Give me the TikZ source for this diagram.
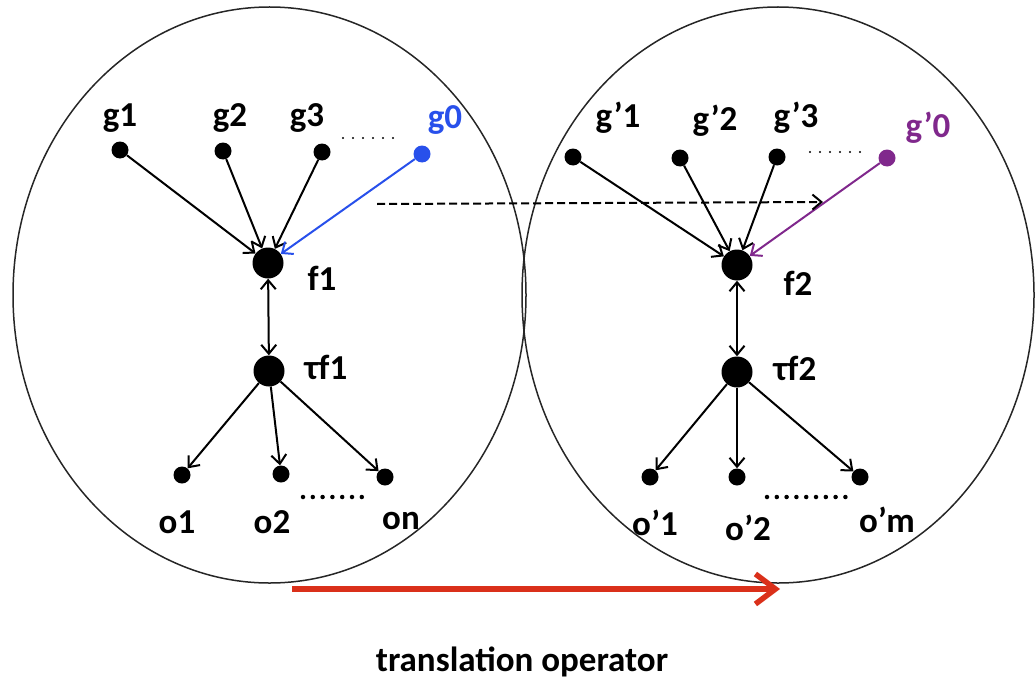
\documentclass[tikz,border=0pt]{standalone}
\usepackage{fontspec}
\setmainfont{Carlito}
\usetikzlibrary{arrows.meta}
\definecolor{gblue}{RGB}{40,80,235}
\definecolor{gpurple}{RGB}{128,40,140}
\definecolor{redarr}{RGB}{218,48,26}
\tikzset{
  sdot/.style={circle, fill=black, inner sep=0pt, minimum size=17pt},
  bdot/.style={circle, fill=black, inner sep=0pt, minimum size=31pt},
  lab/.style={font=\bfseries\fontsize{35}{38}\selectfont, inner sep=0pt, anchor=center},
  arr/.style={-{Straight Barb[length=9pt,width=15pt]}, line width=2pt},
  darr/.style={{Straight Barb[length=9pt,width=15pt]}-{Straight Barb[length=9pt,width=15pt]}, line width=2pt},
  dotrow/.style={line width=2.4pt, line cap=round, dash pattern=on 0pt off 10pt},
  bigdotrow/.style={line width=4.5pt, line cap=round, dash pattern=on 0pt off 9.8pt},
  oval/.style={line width=1.5pt, draw=black!85},
}
\begin{document}
\begin{tikzpicture}[x=1pt,y=-1pt]
\useasboundingbox (0,0) rectangle (1035,682);
% ovals
\draw[oval] (269.5,295) ellipse [x radius=256.5, y radius=288];
\draw[oval] (778,295) ellipse [x radius=256, y radius=288];
% left graph
\node[sdot] (g1) at (120,150) {};
\node[sdot] (g2) at (223,151) {};
\node[sdot] (g3) at (322,152) {};
\node[sdot, fill=gblue] (g0) at (422,154) {};
\node[bdot] (f1) at (268,263) {};
\node[bdot] (tf1) at (269,371) {};
\node[sdot] (o1) at (182,475) {};
\node[sdot] (o2) at (281,474) {};
\node[sdot] (on) at (385,477) {};
\node[lab] (lg1) at (120,118) {g1};
\node[lab] (lg2) at (230,118) {g2};
\node[lab] (lg3) at (307,118) {g3};
\node[lab, text=gblue] (lg0) at (445,120) {g0};
\node[lab] (lf1) at (322,278) {f1};
\node[lab] (ltf1) at (326,367) {τf1};
\node[lab] (lo1) at (177,522) {o1};
\node[lab] (lo2) at (272,522) {o2};
\node[lab] (lon) at (401,521) {on};
\coordinate (d1a) at (343,138);
\coordinate (d1b) at (403,138);
\coordinate (d2a) at (303,497);
\coordinate (d2b) at (362,497);
\draw[dotrow] (d1a) -- (d1b);
\draw[bigdotrow] (d2a) -- (d2b);
\draw[arr] (g1) -- (f1);
\draw[arr] (g2) -- (f1);
\draw[arr] (g3) -- (f1);
\draw[arr, gblue] (g0) -- (f1);
\draw[darr] (f1) -- (tf1);
\draw[arr] (tf1) -- (o1);
\draw[arr] (tf1) -- (o2);
\draw[arr] (tf1) -- (on);
% right graph
\node[sdot] (gp1) at (573,157) {};
\node[sdot] (gp2) at (680,158) {};
\node[sdot] (gp3) at (777,157) {};
\node[sdot, fill=gpurple] (gp0) at (887,158) {};
\node[bdot] (f2) at (737,265) {};
\node[bdot] (tf2) at (737,372) {};
\node[sdot] (op1) at (650,477) {};
\node[sdot] (op2) at (737,477) {};
\node[sdot] (opm) at (860,477) {};
\node[lab] (lgp1) at (618,118) {g’1};
\node[lab] (lgp2) at (715,121) {g’2};
\node[lab] (lgp3) at (796,118) {g’3};
\node[lab, text=gpurple] (lgp0) at (928,128) {g’0};
\node[lab] (lf2) at (798,283) {f2};
\node[lab] (ltf2) at (795,368) {τf2};
\node[lab] (lop1) at (655,523) {o’1};
\node[lab] (lop2) at (748,528) {o’2};
\node[lab] (lopm) at (887,520) {o’m};
\coordinate (d3a) at (810,152);
\coordinate (d3b) at (870,152);
\coordinate (d4a) at (767,497);
\coordinate (d4b) at (847,497);
\draw[dotrow] (d3a) -- (d3b);
\draw[bigdotrow] (d4a) -- (d4b);
\draw[arr] (gp1) -- (f2);
\draw[arr] (gp2) -- (f2);
\draw[arr] (gp3) -- (f2);
\draw[arr, gpurple] (gp0) -- (f2);
\draw[darr] (f2) -- (tf2);
\draw[arr] (tf2) -- (op1);
\draw[arr] (tf2) -- (op2);
\draw[arr] (tf2) -- (opm);
% dashed arrow between graphs
\coordinate (da) at (377,204);
\coordinate (db) at (823,202);
\draw[arr, dash pattern=on 8pt off 4pt] (da) -- (db);
% translation arrow
\coordinate (ra) at (292,589);
\coordinate (rb) at (780,589);
\draw[redarr, line width=6.5pt, -{Straight Barb[length=20pt,width=30pt,line width=5.5pt]}] (ra) -- (rb);
\node[lab] (title) at (522,662) {translation operator};
\end{tikzpicture}
\end{document}
